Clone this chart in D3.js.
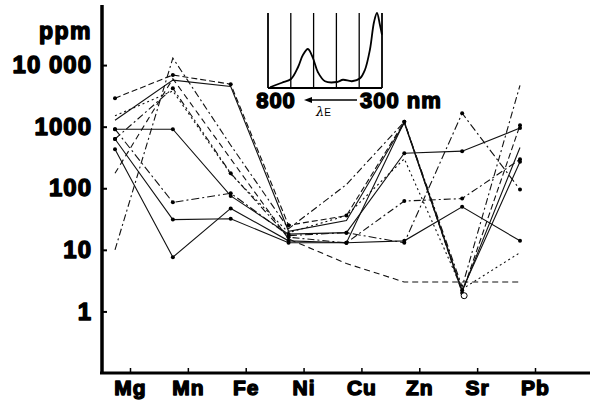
<!DOCTYPE html>
<html>
<head>
<meta charset="utf-8">
<script src="https://cdnjs.cloudflare.com/ajax/libs/d3/7.8.5/d3.min.js"></script>
<style>
    body { margin: 0; background: #fff; }
    #chart { width: 590px; height: 403px; }
    .big { font-family: "Liberation Sans", Arial, sans-serif; font-weight: bold; fill: #000;
           stroke: #000; stroke-width: 1.4px; paint-order: stroke; stroke-linejoin: round; }
</style>
</head>
<body>
<div id="chart"></div>
<script>

// element categories on the x axis
let elements = ["Mg", "Mn", "Fe", "Ni", "Cu", "Zn", "Sr", "Pb"];

// y ticks (ppm, log scale)
let yTickValues = [1, 10, 100, 1000, 10000];
let yTickLabels = ["1", "10", "100", "1000", "10 000"];

// concentrations in ppm, one array per sample, in element order
let sampleA = [10, 13000, 500, 22, 115, 1200, 2.5, 4700];
let sampleB = [2900, 6900, 4900, 25, 36, 1200, 2.0, 1050];
let sampleC = [1270, 5700, 4500, 20, 30, 1150, 2.1, 460];
let sampleD = [910, 910, 75, 18, 19, 370, 400, 950];
let sampleE = [630, 4200, 175, 16, 13, 62, 68, 295];
let sampleF = [430, 7.6, 47, 14, 13, 14, 50, 14];
let sampleG = [175, 6000, 300, 15, 6, 3, 3, 3];
let sampleH = [910, 59, 83, 17, 19, 13, 1650, 95];
let sampleI = [630, 31, 32, 13, 13, 1200, 2.2, 270];
let sampleJ = [1500, 3800, 170, 19, 36, 300, 2.3, 9];

// inset spectrum: wavelength (nm) and relative absorbance
let wavelength = [791, 739, 699, 668, 647, 625, 603, 581, 550, 497, 471, 432, 396, 375, 353, 335, 322, 309, 300];
let absorbance = [0.01, 0.07, 0.12, 0.28, 0.44, 0.52, 0.40, 0.21, 0.09, 0.08, 0.11, 0.09, 0.13, 0.24, 0.51, 0.88, 1.0, 0.84, 0.71];
let spectrumGrid = [800, 700, 600, 500, 400, 300];

class ElementChart {

    constructor(parentElement) {
        this.parentElement = parentElement;
        this.samples = [sampleA, sampleB, sampleC, sampleD, sampleE, sampleF, sampleG, sampleH, sampleI, sampleJ];
        // line style per sample (dash pattern, dots at vertices)
        this.dashes = ["7,3,2,3", "6,3", null, null, "7,3,2,3", null, "6,4", "8,3,2,3", null, "2,3"];
        this.dots = [false, true, false, true, true, true, false, true, true, false];
        this.initVis();
    }

    initVis() {
        let vis = this;

        vis.svg = d3.select("#" + vis.parentElement).append("svg")
            .attr("width", 590)
            .attr("height", 403);

        // data x positions sit a little left of the tick marks
        vis.x = d3.scalePoint()
            .domain(elements)
            .range([115, 520]);

        vis.xTick = d3.scalePoint()
            .domain(elements)
            .range([130, 535]);

        vis.y = d3.scaleLog()
            .domain([0.1, 100000])
            .range([373, 3.5]);

        vis.yAxis = d3.axisLeft(vis.y)
            .tickValues(yTickValues)
            .tickSizeInner(-5)
            .tickSizeOuter(0)
            .tickPadding(10)
            .tickFormat((d, i) => yTickLabels[i]);

        vis.xAxis = d3.axisBottom(vis.xTick)
            .tickSizeInner(-5)
            .tickSizeOuter(0)
            .tickPadding(7);

        vis.updateVis();
    }

    updateVis() {
        let vis = this;

        let line = d3.line()
            .x((d, i) => vis.x(elements[i]))
            .y(d => vis.y(d));

        vis.svg.append("g")
            .selectAll("path")
            .data(vis.samples)
            .enter()
            .append("path")
            .attr("d", line)
            .attr("fill", "none")
            .attr("stroke", "#111")
            .attr("stroke-width", 1.1)
            .attr("stroke-dasharray", (d, i) => vis.dashes[i]);

        vis.samples.forEach(function (s, k) {
            if (!vis.dots[k]) return;
            vis.svg.append("g")
                .selectAll("circle")
                .data(s)
                .enter()
                .append("circle")
                .attr("cx", (d, i) => vis.x(elements[i]))
                .attr("cy", d => vis.y(d))
                .attr("r", 2)
                .attr("fill", "#000");
        });

        // open circle at the Sr minimum
        vis.svg.append("circle")
            .attr("cx", vis.x("Sr") + 2)
            .attr("cy", vis.y(1.8))
            .attr("r", 3)
            .attr("fill", "#fff")
            .attr("stroke", "#000")
            .attr("stroke-width", 1);

        // y axis
        let gy = vis.svg.append("g")
            .attr("class", "y-axis axis")
            .attr("transform", "translate(102,0)")
            .call(vis.yAxis);
        gy.select(".domain").remove();
        gy.selectAll(".tick line").attr("stroke-width", 2);
        gy.selectAll("text").attr("class", "big").attr("font-size", 24).attr("letter-spacing", 1);
        vis.svg.append("line")
            .attr("x1", 102).attr("x2", 102)
            .attr("y1", 5).attr("y2", 374)
            .attr("stroke", "#000").attr("stroke-width", 3.5);

        vis.svg.append("text")
            .attr("class", "big")
            .attr("x", 92)
            .attr("y", 39)
            .attr("text-anchor", "end")
            .attr("font-size", 23)
            .attr("letter-spacing", 1.5)
            .text("ppm");

        // x axis
        let gx = vis.svg.append("g")
            .attr("class", "x-axis axis")
            .attr("transform", "translate(0,373)")
            .call(vis.xAxis);
        gx.select(".domain").remove();
        gx.selectAll(".tick line").attr("stroke-width", 1.5);
        gx.selectAll("text").attr("class", "big").attr("font-size", 21).attr("letter-spacing", 1);
        vis.svg.append("line")
            .attr("x1", 100).attr("x2", 590)
            .attr("y1", 373).attr("y2", 373)
            .attr("stroke", "#000").attr("stroke-width", 3);

        vis.drawInset();
    }

    drawInset() {
        let vis = this;

        let sx = d3.scaleLinear().domain([800, 300]).range([268, 382]);
        let sy = d3.scaleLinear().domain([0, 1]).range([88, 13]);
        let g = vis.svg.append("g").attr("class", "inset");

        g.selectAll(".grid")
            .data(spectrumGrid)
            .enter()
            .append("line")
            .attr("x1", d => sx(d)).attr("x2", d => sx(d))
            .attr("y1", sy(1)).attr("y2", sy(0))
            .attr("stroke", "#000")
            .attr("stroke-width", (d, i) => (i === 0 || i === spectrumGrid.length - 1) ? 1.8 : 1.3);

        g.append("line")
            .attr("x1", sx(800)).attr("x2", sx(300))
            .attr("y1", sy(0)).attr("y2", sy(0))
            .attr("stroke", "#000").attr("stroke-width", 1.8);

        let spec = d3.line()
            .x((d, i) => sx(wavelength[i]))
            .y(d => sy(d))
            .curve(d3.curveCatmullRom);

        g.append("path")
            .attr("d", spec(absorbance))
            .attr("fill", "none")
            .attr("stroke", "#000")
            .attr("stroke-width", 1.8);

        g.append("text")
            .attr("class", "big")
            .attr("x", 276).attr("y", 108)
            .attr("text-anchor", "middle")
            .attr("font-size", 22)
            .attr("letter-spacing", 1)
            .text("800");

        g.append("text")
            .attr("class", "big")
            .attr("x", 360).attr("y", 108)
            .attr("font-size", 22)
            .attr("letter-spacing", 1)
            .text("300 nm");

        // arrow pointing to longer wavelength
        g.append("line")
            .attr("x1", 357).attr("x2", 310)
            .attr("y1", 100).attr("y2", 100)
            .attr("stroke", "#000").attr("stroke-width", 1.5);
        g.append("path")
            .attr("d", "M304,100 L312,97 L312,103 Z")
            .attr("fill", "#000");

        let lab = g.append("text")
            .attr("x", 316).attr("y", 116)
            .attr("font-family", "'DejaVu Serif', serif")
            .attr("font-size", 13);
        lab.append("tspan").attr("font-style", "italic").text("λ");
        lab.append("tspan").attr("font-size", 10).attr("font-family", "'Liberation Sans', sans-serif").text("E");
    }
}

new ElementChart("chart");
</script>
</body>
</html>
